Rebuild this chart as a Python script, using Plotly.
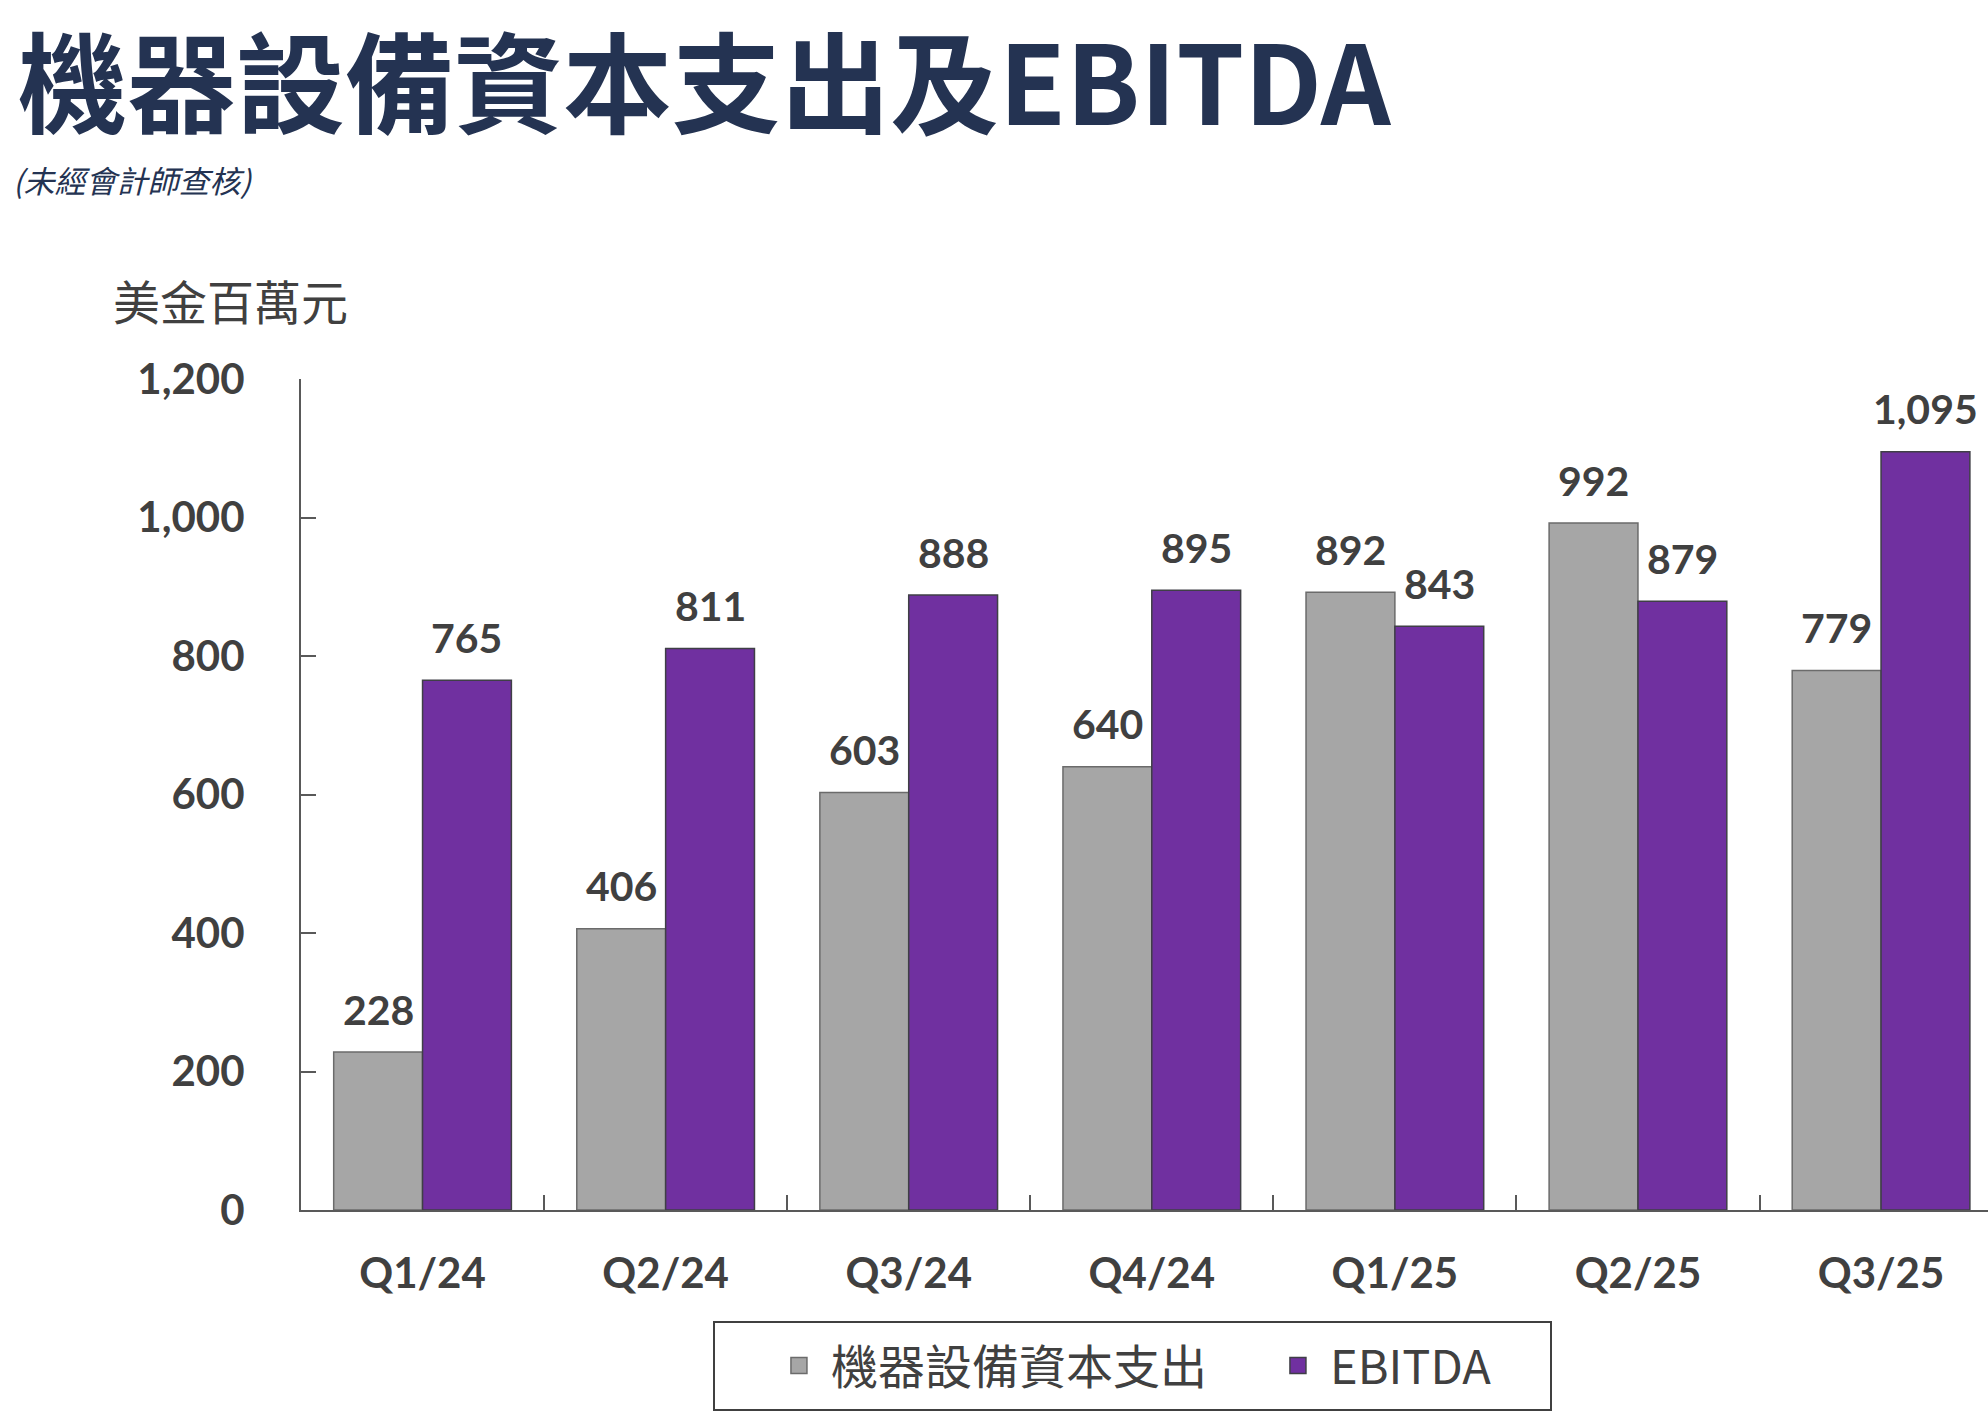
import plotly.graph_objects as go

categories = ["Q1/24", "Q2/24", "Q3/24", "Q4/24", "Q1/25", "Q2/25", "Q3/25"]
capex = [228, 406, 603, 640, 892, 992, 779]
ebitda = [765, 811, 888, 895, 843, 879, 1095]
series_names = ["機器設備資本支出", "EBITDA"]
y_ticks = [0, 200, 400, 600, 800, 1000, 1200]

GRAY = "#a6a6a6"
PURPLE = "#7030a0"
GRAY_EDGE = "#6b6b6b"
PURPLE_EDGE = "#3f3f46"
TEXT = "#404040"
NAVY = "#243352"
LATIN = "Lato, 'Noto Sans CJK TC', sans-serif"
CJK = "'Noto Sans CJK TC', sans-serif"
BARGAP = 0.269

fig = go.Figure()
fig.add_trace(go.Bar(x=categories, y=capex, name=series_names[0], showlegend=False,
                     marker=dict(color=GRAY, line=dict(color=GRAY_EDGE, width=1.5))))
fig.add_trace(go.Bar(x=categories, y=ebitda, name=series_names[1], showlegend=False,
                     marker=dict(color=PURPLE, line=dict(color=PURPLE_EDGE, width=1.5))))
# legend entries (larger square swatches)
for name, col, edge in ((series_names[0], GRAY, GRAY_EDGE), (series_names[1], PURPLE, PURPLE_EDGE)):
    fig.add_trace(go.Scatter(x=[None], y=[None], mode="markers", name=name, hoverinfo="skip",
                             marker=dict(symbol="square", size=16, color=col,
                                         line=dict(color=edge, width=1.5))))

off = (1 - BARGAP) / 4
annotations = []
for i, (a, b) in enumerate(zip(capex, ebitda)):
    for val, dx in ((a, -off), (b, off)):
        annotations.append(dict(x=i + dx, y=val, xref="x", yref="y", text=f"{val:,}",
                                showarrow=False, yanchor="middle", yshift=43,
                                font=dict(family=LATIN, size=41, color=TEXT, weight="bold")))

annotations.append(dict(x=-0.172, y=(1210 - 179) / 831, xref="paper", yref="paper", xanchor="left",
                        yanchor="middle", showarrow=False, text="(未經會計師查核)",
                        font=dict(family=CJK, size=31, color=NAVY, style="italic")))
annotations.append(dict(x=-0.1125, y=1.0951, xref="paper", yref="paper", xanchor="left",
                        yanchor="middle", showarrow=False, text="美金百萬元",
                        font=dict(family=CJK, size=47, color=TEXT)))

fig.update_layout(
    width=1988, height=1426,
    margin=dict(l=301, r=0, t=379, b=216),
    paper_bgcolor="white", plot_bgcolor="white",
    barmode="group", bargap=BARGAP, bargroupgap=0,
    title=dict(text="機器設備資本支出及EBITDA", x=0.00905, xanchor="left", xref="container",
               y=1 - 87 / 1426, yanchor="middle", yref="container",
               font=dict(family=CJK, size=109, color=NAVY, weight="bold")),
    xaxis=dict(type="category", range=[-0.5, 6.44], showline=True, linecolor="#595959",
               linewidth=2, ticks="inside", tickson="boundaries", ticklen=15,
               tickcolor="#595959", tickwidth=2, ticklabelstandoff=26,
               tickfont=dict(family=LATIN, size=42, color=TEXT, weight="bold"),
               showgrid=False, zeroline=False),
    yaxis=dict(range=[0, 1200], tickvals=y_ticks, tickformat=",", showline=True,
               linecolor="#595959", linewidth=2, ticks="inside", ticklen=15,
               tickcolor="#595959", tickwidth=2, ticklabelstandoff=46,
               tickfont=dict(family=LATIN, size=42, color=TEXT, weight="bold"),
               showgrid=False, zeroline=False),
    legend=dict(orientation="h", x=0.2762, xanchor="left", y=-0.1877, yanchor="middle",
                borderwidth=0, bgcolor="rgba(0,0,0,0)",
                font=dict(family=CJK, size=47, color=TEXT), itemwidth=54,
                entrywidth=430, entrywidthmode="pixels", traceorder="normal"),
    shapes=[dict(type="rect", xref="paper", yref="paper",
                 x0=(714 - 301) / 1687, x1=(1551 - 301) / 1687,
                 y0=(1210 - 1410) / 831, y1=(1210 - 1322) / 831,
                 line=dict(color="#404040", width=2), fillcolor="rgba(0,0,0,0)", layer="below")],
    annotations=annotations,
    showlegend=True,
)

fig.write_html("out.html")
